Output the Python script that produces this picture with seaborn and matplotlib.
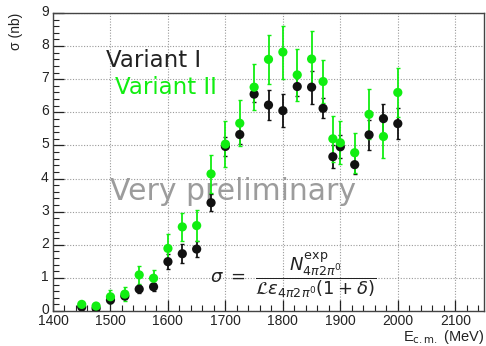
import matplotlib
matplotlib.use("Agg")
import matplotlib.pyplot as plt
import matplotlib.transforms as mtrans
import seaborn as sns
import pandas as pd
import numpy as np
from matplotlib.ticker import MultipleLocator

energy = [1450, 1475, 1500, 1525, 1550, 1575, 1600, 1625, 1650, 1675, 1700, 1725,
          1750, 1775, 1800, 1825, 1850, 1870, 1887, 1900, 1925, 1950, 1975, 2000]
sigma_v1 = [0.12, 0.08, 0.33, 0.45, 0.66, 0.73, 1.49, 1.73, 1.87, 3.27, 4.97, 5.33,
            6.55, 6.22, 6.05, 6.78, 6.76, 6.12, 4.66, 4.96, 4.42, 5.32, 5.81, 5.66]
err_v1 = [0.05, 0.05, 0.10, 0.10, 0.12, 0.12, 0.22, 0.28, 0.25, 0.25, 0.30, 0.30,
          0.23, 0.44, 0.50, 0.30, 0.50, 0.30, 0.35, 0.35, 0.28, 0.45, 0.45, 0.47]
sigma_v2 = [0.20, 0.15, 0.43, 0.51, 1.09, 0.99, 1.89, 2.54, 2.58, 4.14, 5.04, 5.67,
            6.76, 7.60, 7.82, 7.13, 7.61, 6.93, 5.20, 5.08, 4.78, 5.94, 5.27, 6.60]
err_v2 = [0.06, 0.06, 0.20, 0.20, 0.28, 0.25, 0.45, 0.43, 0.48, 0.58, 0.70, 0.69,
          0.69, 0.73, 0.80, 0.79, 0.85, 0.65, 0.70, 0.65, 0.60, 0.75, 0.65, 0.75]
labels = ["Variant I", "Variant II"]
colors = ["#111111", "#11ee11"]

sns.set_theme(style="ticks")
plt.rcParams['font.family'] = ['Liberation Sans', 'DejaVu Sans']

df = pd.concat([
    pd.DataFrame({"E": energy, "sigma": sigma_v1, "err": err_v1, "variant": labels[0]}),
    pd.DataFrame({"E": energy, "sigma": sigma_v2, "err": err_v2, "variant": labels[1]}),
], ignore_index=True)

fig = plt.figure(figsize=(4.86, 3.46), dpi=100)
ax = fig.add_axes([53/486, 1 - 311/346, (484 - 53)/486, (311 - 13)/346])

for lab, col in zip(labels, colors):
    sub = df[df["variant"] == lab]
    ax.errorbar(sub["E"], sub["sigma"], yerr=sub["err"], fmt="none", ecolor=col,
                elinewidth=1.3, capsize=1.5, capthick=1.0, zorder=3)
sns.scatterplot(data=df, x="E", y="sigma", hue="variant", palette=colors,
                hue_order=labels, s=44, edgecolor="none", legend=False, ax=ax, zorder=4)

ax.set_xlim(1400, 2150)
ax.set_ylim(0, 9)
ax.xaxis.set_major_locator(MultipleLocator(100))
ax.xaxis.set_minor_locator(MultipleLocator(20))
ax.yaxis.set_major_locator(MultipleLocator(1))
ax.yaxis.set_minor_locator(MultipleLocator(0.2))
ax.grid(True, which="major", color="#9a9a9a", linestyle=(0, (1, 1.5)), linewidth=0.8)
ax.tick_params(which="both", direction="in", top=False, right=False,
               labelsize=10, colors="#222222")
ax.tick_params(axis="x", pad=2.5)
ax.tick_params(axis="y", pad=3)
ax.tick_params(which="major", length=8, width=0.9)
ax.tick_params(which="minor", length=4, width=0.8)
for sp in ax.spines.values():
    sp.set_visible(True)
    sp.set_color("#444444")
    sp.set_linewidth(1.0)

# nudge y tick labels up slightly (as in the reference)
shift = mtrans.ScaledTranslation(0, 2.5 / 100, fig.dpi_scale_trans)
for lbl in ax.get_yticklabels():
    lbl.set_transform(lbl.get_transform() + shift)

ax.set_xlabel("")
ax.set_ylabel("")
fig.text(484/486, 1 - 341/346, r"E$_{\mathrm{c.m.}}$ (MeV)", ha="right", va="baseline",
         fontsize=10.5, color="#222222")
fig.text(16/486, 1 - 13/346, r"σ (nb)", ha="center", va="top", rotation=90,
         fontsize=10, color="#222222")

ax.text(1492, 7.57, "Variant I", fontsize=16.5, color="#222222",
        family="DejaVu Sans", va="center", ha="left", zorder=5)
ax.text(1508, 6.75, "Variant II", fontsize=16.5, color="#11ee11",
        family="DejaVu Sans", va="center", ha="left", zorder=5)
ax.text(1500, 3.6, "Very preliminary", fontsize=21.5, color="#9c9c9c",
        family="DejaVu Sans", va="center", ha="left", zorder=2)
ax.text(1674, 1.09, r"$\sigma\ =\ \dfrac{N^{\rm exp}_{4\pi2\pi^0}}{\mathcal{L}\varepsilon_{4\pi2\pi^0}(1+\delta)}$",
        fontsize=13, color="#222222", va="center", ha="left", zorder=5)

fig.savefig("out.png", dpi=100)
